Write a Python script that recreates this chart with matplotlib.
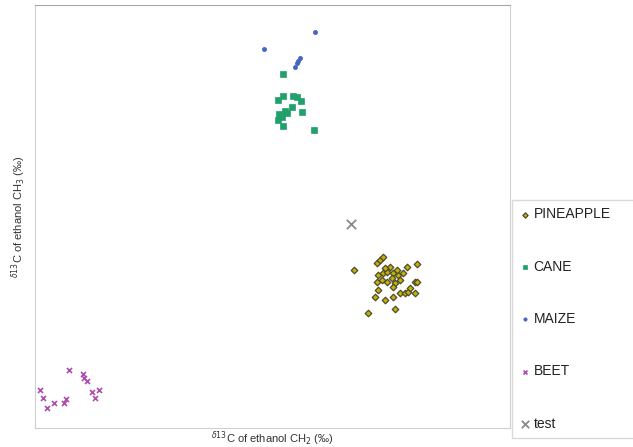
import matplotlib.pyplot as plt

plt.rcParams['font.family'] = ['Liberation Sans', 'DejaVu Sans']

# values (arbitrary delta units, no ticks shown)
pineapple_x = [319, 342, 345, 348, 355, 372, 382, 343, 348, 352, 358, 363, 368, 342, 347,
               352, 357, 360, 365, 380, 382, 343, 358, 340, 350, 358, 365, 370, 373, 380,
               333, 360, 350, 362, 375]
pineapple_y = [158, 165, 168, 171, 161, 161, 164, 153, 155, 156, 155, 153, 155, 146, 148,
               146, 150, 145, 148, 146, 146, 138, 141, 131, 128, 131, 135, 135, 136, 135,
               115, 119, 160, 158, 140]

cane_x = [248, 248, 243, 258, 266, 257, 250, 244, 247, 243, 248, 267, 279, 252, 262]
cane_y = [354, 332, 328, 332, 327, 321, 317, 314, 311, 308, 302, 316, 298, 315, 331]

maize_x = [280, 229, 260, 262, 263, 265]
maize_y = [396, 379, 361, 365, 367, 370]

beet_x = [34, 48, 49, 52, 5, 8, 12, 19, 29, 31, 57, 64, 60]
beet_y = [58, 54, 50, 47, 38, 30, 20, 25, 25, 29, 36, 38, 30]

test_x = [316]
test_y = [204]

fig = plt.figure(figsize=(6.33, 4.47), dpi=100)
ax = fig.add_axes([0.0553, 0.0425, 0.7504, 0.9465])

ax.scatter(pineapple_x, pineapple_y, marker='D', s=11, c='#c8b400',
           edgecolors='#4a4a30', linewidths=0.9, label='PINEAPPLE', zorder=3)
ax.scatter(cane_x, cane_y, marker='s', s=13, c='#22a06b',
           edgecolors='#22a06b', linewidths=0.5, label='CANE', zorder=3)
ax.scatter(maize_x, maize_y, marker='o', s=9, c='#4565c4',
           edgecolors='#4565c4', linewidths=0.5, label='MAIZE', zorder=3)
ax.scatter(beet_x, beet_y, marker='x', s=13, c='#b04cb0',
           linewidths=1.2, label='BEET', zorder=3)
ax.scatter(test_x, test_y, marker='x', s=45, c='#8a8a8a',
           linewidths=1.3, label='test', zorder=3)

ax.set_xlim(0, 475)
ax.set_ylim(0, 423)
ax.set_xticks([])
ax.set_yticks([])
for side in ['left', 'bottom', 'right']:
    ax.spines[side].set_color('#d0d0d0')
ax.spines['top'].set_color('#a8a8a8')

ax.set_xlabel(r'$^{\delta 13}$C of ethanol CH$_2$ (‰)', fontsize=8,
              color='#333333', labelpad=1)
ax.set_ylabel(r'$^{\delta 13}$C of ethanol CH$_3$ (‰)', fontsize=8,
              color='#333333', labelpad=5)

# legend box runs off the right edge like in the original
leg = fig.legend(loc='upper left', bbox_to_anchor=(0.809, 0.022, 0.25, 0.531),
                 mode='expand', fontsize=10, labelspacing=2.76, handletextpad=0.2,
                 handlelength=0.8, borderpad=0.55, markerscale=0.8,
                 fancybox=False, frameon=True, borderaxespad=0)
leg.get_frame().set_edgecolor('#d0d0d0')
leg.get_frame().set_linewidth(1.0)
for t in leg.get_texts():
    t.set_color('#222222')

fig.savefig('out.png', dpi=100)
